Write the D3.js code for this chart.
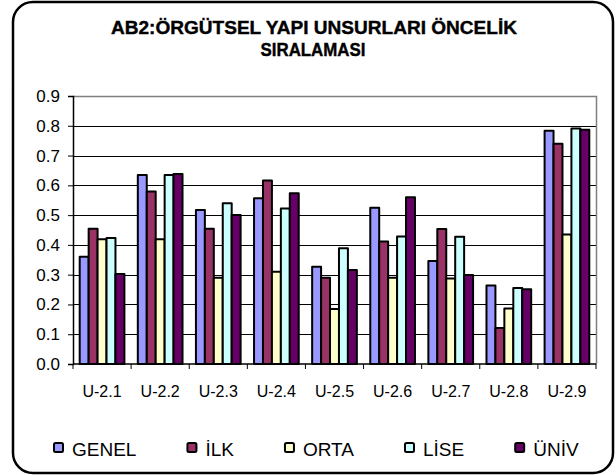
<!DOCTYPE html>
<html>
<head>
<meta charset="utf-8">
<script src="https://cdn.jsdelivr.net/npm/d3@7"></script>
<style>
  html, body { margin: 0; padding: 0; background: #fff; }
  svg { display: block; font-family: "Liberation Sans", Arial, sans-serif; }
</style>
</head>
<body>
<svg id="chart" width="616" height="475"></svg>
<script>
// Chart data.
var categories = ['U-2.1', 'U-2.2', 'U-2.3', 'U-2.4', 'U-2.5', 'U-2.6', 'U-2.7', 'U-2.8', 'U-2.9'];
var seriesNames = ['GENEL', 'İLK', 'ORTA', 'LİSE', 'ÜNİV'];
var seriesColors = ['#9999FF', '#993366', '#FFFFCC', '#CCFFFF', '#660066'];

var genel = [0.360, 0.635, 0.517, 0.557, 0.327, 0.525, 0.346, 0.264, 0.783];
var ilk   = [0.454, 0.579, 0.454, 0.616, 0.290, 0.411, 0.453, 0.121, 0.740];
var orta  = [0.419, 0.419, 0.290, 0.310, 0.185, 0.290, 0.287, 0.186, 0.435];
var lise  = [0.423, 0.635, 0.540, 0.522, 0.389, 0.428, 0.427, 0.255, 0.791];
var univ  = [0.302, 0.638, 0.500, 0.573, 0.316, 0.560, 0.299, 0.251, 0.787];

var yTickValues = [0, 0.1, 0.2, 0.3, 0.4, 0.5, 0.6, 0.7, 0.8, 0.9];
var titleLines = ['AB2:ÖRGÜTSEL YAPI UNSURLARI ÖNCELİK', 'SIRALAMASI'];

var seriesValues = [genel, ilk, orta, lise, univ];

var svg = d3.select('#chart');

// Outer rounded frame of the chart.
svg.append('rect')
  .attr('x', 13).attr('y', 2)
  .attr('width', 600).attr('height', 471)
  .attr('rx', 20).attr('ry', 20)
  .attr('fill', '#fff')
  .attr('stroke', '#000')
  .attr('stroke-width', 2.5);

// Title: squeezed a bit, like the Excel rendering.
svg.append('text')
  .attr('x', 314).attr('y', 34)
  .attr('text-anchor', 'middle')
  .attr('font-size', 19).attr('font-weight', 'bold')
  .attr('stroke', '#000').attr('stroke-width', 0.4)
  .attr('textLength', 406).attr('lengthAdjust', 'spacingAndGlyphs')
  .text(titleLines[0]);
svg.append('text')
  .attr('x', 313).attr('y', 56)
  .attr('text-anchor', 'middle')
  .attr('font-size', 19).attr('font-weight', 'bold')
  .attr('stroke', '#000').attr('stroke-width', 0.4)
  .attr('textLength', 105).attr('lengthAdjust', 'spacingAndGlyphs')
  .text(titleLines[1]);

var plot = { left: 73, right: 596, top: 96, bottom: 364 };

var x0 = d3.scaleBand()
  .domain(categories)
  .range([plot.left, plot.right]);

// Excel style gap width of 150%: 0.75 bar of gap on each side of a group.
var x1 = d3.scaleBand()
  .domain(d3.range(seriesNames.length))
  .range([0, x0.bandwidth()])
  .paddingInner(0)
  .paddingOuter(0.75);

var y = d3.scaleLinear()
  .domain([0, 0.9])
  .range([plot.bottom, plot.top]);

// Gridlines.
svg.append('g')
  .selectAll('line')
  .data(yTickValues.filter(function(d) { return d > 0 && d < 0.9; }))
  .enter().append('line')
    .attr('x1', plot.left).attr('x2', plot.right)
    .attr('y1', function(d) { return Math.round(y(d)) + 0.5; })
    .attr('y2', function(d) { return Math.round(y(d)) + 0.5; })
    .attr('stroke', '#000')
    .attr('stroke-width', 1);

// Grey plot area border on top and right.
svg.append('path')
  .attr('d', 'M' + plot.left + ',' + (y(0.9) + 0.5) + 'H' + (plot.right + 0.5) + 'V' + plot.bottom)
  .attr('fill', 'none')
  .attr('stroke', '#808080')
  .attr('stroke-width', 1.5);

// Bars.
svg.append('g')
  .selectAll('g')
  .data(categories)
  .enter().append('g')
    .attr('transform', function(d) { return 'translate(' + x0(d) + ',0)'; })
  .selectAll('rect')
  .data(function(d, i) {
    return seriesValues.map(function(vals, s) { return { s: s, v: vals[i] }; });
  })
  .enter().append('rect')
    .attr('x', function(d) { return x1(d.s); })
    .attr('y', function(d) { return y(d.v); })
    .attr('width', x1.bandwidth())
    .attr('height', function(d) { return y(0) - y(d.v); })
    .attr('fill', function(d) { return seriesColors[d.s]; })
    .attr('stroke', '#000')
    .attr('stroke-width', 2)
    .attr('stroke-linejoin', 'round');

// Y axis.
var yAxis = svg.append('g')
  .attr('transform', 'translate(' + plot.left + ',0)')
  .call(d3.axisLeft(y)
    .tickValues(yTickValues)
    .tickFormat(d3.format('.1f'))
    .tickSize(5)
    .tickPadding(8));
yAxis.select('.domain').attr('stroke', '#000').attr('stroke-width', 1.5);
yAxis.selectAll('text')
  .attr('font-size', 17)
  .attr('font-family', '"Liberation Sans", Arial, sans-serif')
  .attr('fill', '#000');

// X axis: ticks sit between categories, labels centered under each one.
var xAxis = svg.append('g')
  .attr('transform', 'translate(0,' + plot.bottom + ')');
xAxis.append('line')
  .attr('x1', plot.left).attr('x2', plot.right)
  .attr('stroke', '#000').attr('stroke-width', 1.5);
xAxis.selectAll('.tick')
  .data(categories.concat(['end']))
  .enter().append('line')
    .attr('x1', function(d, i) { return plot.left + i * x0.step(); })
    .attr('x2', function(d, i) { return plot.left + i * x0.step(); })
    .attr('y1', 0).attr('y2', 5)
    .attr('stroke', '#000');
xAxis.selectAll('text')
  .data(categories)
  .enter().append('text')
    .attr('x', function(d) { return x0(d) + x0.bandwidth() / 2; })
    .attr('y', 33)
    .attr('text-anchor', 'middle')
    .attr('font-size', 16)
    .text(function(d) { return d; });

// Legend, laid out from the measured text widths.
var legend = svg.append('g').attr('transform', 'translate(0,456)');
var lx = 54;
seriesNames.forEach(function(name, i) {
  legend.append('rect')
    .attr('x', lx).attr('y', -13)
    .attr('width', 9).attr('height', 9)
    .attr('rx', 1.5)
    .attr('fill', seriesColors[i])
    .attr('stroke', '#000')
    .attr('stroke-width', 2);
  var t = legend.append('text')
    .attr('x', lx + 18).attr('y', 0)
    .attr('font-size', 19)
    .text(name);
  lx += 18 + t.node().getComputedTextLength() + 51;
});
</script>
</body>
</html>
